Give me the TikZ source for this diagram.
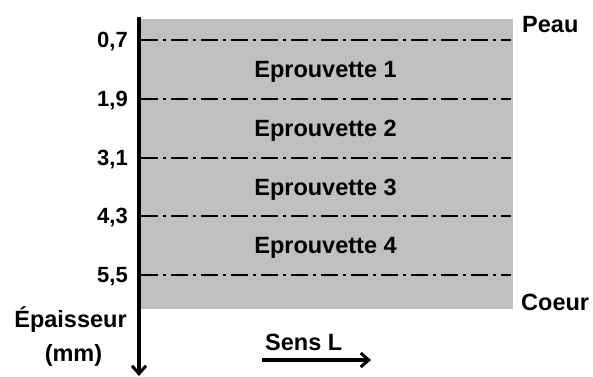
\documentclass[tikz,border=0pt]{standalone}
\usepackage{fontspec}
\setmainfont{Liberation Sans}
\usetikzlibrary{arrows.meta}
\definecolor{slab}{HTML}{C0C0C0}
\begin{document}
\begin{tikzpicture}[x=1pt,y=-1pt,
  lbl/.style={font=\fontsize{23.5}{26}\selectfont\bfseries,inner sep=0pt},
  num/.style={font=\fontsize{22}{24}\selectfont\bfseries,inner sep=0pt,anchor=base east},
  cut/.style={line width=2.4pt,dash pattern=on 17pt off 5pt on 3pt off 5pt},
  axisline/.style={line width=3.5pt,-{Straight Barb[length=8pt,width=14pt,line width=3pt]}}]
\useasboundingbox (0,0) rectangle (593,376);
\fill[slab] (140,19) rectangle (513,309);
% cut lines
\foreach \n/\y in {a/40,b/99,c/158,d/216,e/275}{
  \coordinate (\n0) at (141,\y);
  \coordinate (\n1) at (511,\y);
  \draw[cut] (\n0) -- (\n1);
}
\node[num] (na) at (128,47.5) {0,7};
\node[num] (nb) at (128,106.5) {1,9};
\node[num] (nc) at (128,165.5) {3,1};
\node[num] (nd) at (128,223.5) {4,3};
\node[num] (ne) at (128,282.5) {5,5};
\node[lbl,anchor=base] (e1) at (325.5,77.5) {Eprouvette 1};
\node[lbl,anchor=base] (e2) at (325.5,136.5) {Eprouvette 2};
\node[lbl,anchor=base] (e3) at (325.5,195) {Eprouvette 3};
\node[lbl,anchor=base] (e4) at (325.5,253.5) {Eprouvette 4};
\node[lbl,anchor=base west] (peau) at (522,32) {Peau};
\node[lbl,anchor=base west] (coeur) at (521,310) {Coeur};
% thickness axis
\coordinate (ax0) at (139,17);
\coordinate (ax1) at (139,376);
\draw[axisline] (ax0) -- (ax1);
\node[lbl,anchor=base] (ep) at (70.5,327) {Épaisseur};
\node[lbl,anchor=base] (mm) at (73.5,361) {(mm)};
% direction L
\node[lbl,anchor=base west] (sens) at (265,350) {Sens L};
\coordinate (s0) at (262,360);
\coordinate (s1) at (371,360);
\draw[axisline] (s0) -- (s1);
\end{tikzpicture}
\end{document}
